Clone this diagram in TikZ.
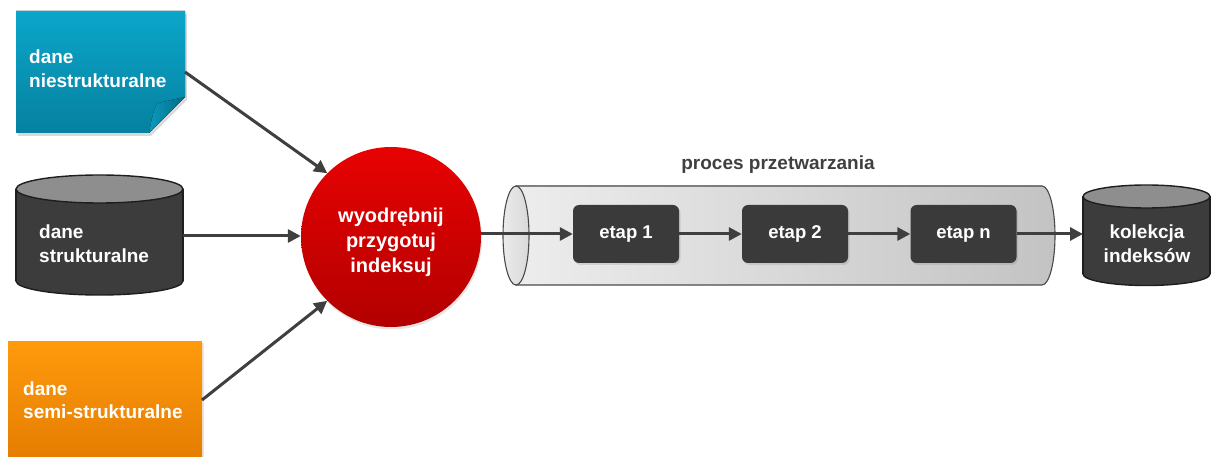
\documentclass[tikz,border=0pt]{standalone}
\usepackage{fontspec}
\setmainfont{Liberation Sans}
\usetikzlibrary{arrows.meta,shadows}

\definecolor{noteTop}{HTML}{0BA6CA}
\definecolor{noteBot}{HTML}{0681A0}
\definecolor{noteFoldA}{HTML}{0A9ABC}
\definecolor{noteFoldB}{HTML}{046A85}
\definecolor{orgTop}{HTML}{FF9A0C}
\definecolor{orgBot}{HTML}{E27A00}
\definecolor{redTop}{HTML}{E80202}
\definecolor{redBot}{HTML}{B20000}
\definecolor{cylBody}{HTML}{3C3C3C}
\definecolor{cylTop}{HTML}{8E8E8E}
\definecolor{cylLine}{HTML}{1E1E1E}
\definecolor{pipeL}{HTML}{EDEDED}
\definecolor{pipeR}{HTML}{C3C3C3}
\definecolor{pipeLine}{HTML}{4A4A4A}
\definecolor{etapc}{HTML}{3A3A3A}
\definecolor{arrowc}{HTML}{3F3F3F}
\definecolor{labc}{HTML}{404040}

\begin{document}
\begin{tikzpicture}[x=1pt,y=-1pt,
  arr/.style={draw=arrowc, line width=3pt, -{Triangle[length=13pt,width=13pt]}},
  lbl/.style={text=white, font=\fontsize{19}{24}\selectfont\bfseries, align=left, inner sep=0pt},
  lblc/.style={lbl, align=center},
  area/.style={rectangle, inner sep=0pt, outer sep=0pt},
  etapbox/.style={rectangle, rounded corners=6pt, fill=etapc, text=white,
    font=\fontsize{18.5}{22}\selectfont\bfseries, minimum width=106pt,
    minimum height=58pt, inner sep=0pt,
    drop shadow={opacity=.22, shadow xshift=1.5pt, shadow yshift=-2pt}},
  cylbody/.style={fill=cylBody, draw=cylLine, line width=1.4pt},
  cyltop/.style={fill=cylTop, draw=cylLine, line width=1.4pt}]
\useasboundingbox (0,0) rectangle (1211,457);

% ---------- unstructured data: sticky note with folded corner ----------
\fill[black, opacity=.15] (18,14) -- (187,14) -- (187,100) -- (151,136) -- (18,136) -- cycle;
\fill[top color=noteTop, bottom color=noteBot]
  (16,11) -- (185,11) -- (185,97) -- (149,133) -- (16,133) -- cycle;
\fill[left color=noteFoldA, right color=noteFoldB]
  (149,133) .. controls (152,117) and (154,108) .. (158,103) -- (185,97) -- cycle;
\node[area, minimum width=169pt, minimum height=122pt] (nies) at (100.5,72) {};
\node[lbl, anchor=west] (niesT) at (29,69) {dane\\niestrukturalne};

% ---------- structured data: cylinder ----------
\filldraw[cylbody] (99.5,281) ellipse [x radius=83.5, y radius=14];
\fill[cylBody] (16,189) rectangle (183,281);
\draw[cylLine, line width=1.4pt] (16,189) -- (16,281) (183,189) -- (183,281);
\filldraw[cyltop] (99.5,189) ellipse [x radius=83.5, y radius=14];
\node[area, minimum width=167pt, minimum height=122pt] (sdata) at (99.5,236) {};
\node[lbl, anchor=west] (sdataT) at (39,244) {dane\\strukturalne};

% ---------- semi-structured data: box ----------
\node[area, minimum width=194pt, minimum height=130pt,
  top color=orgTop, bottom color=orgBot,
  drop shadow={opacity=.2, shadow xshift=2pt, shadow yshift=-2pt}] (semi) at (105,406) {};
\node[lbl, anchor=west, font=\fontsize{19}{22.5}\selectfont\bfseries] (semiT) at (23,400) {dane\\semi-strukturalne};

% ---------- extraction step: circle ----------
\node[circle, minimum size=180pt, inner sep=0pt, top color=redTop, bottom color=redBot,
  drop shadow={opacity=.2, shadow xshift=1pt, shadow yshift=-2.5pt}] (proc) at (391,237) {};
\node[lblc, font=\fontsize{20}{25}\selectfont\bfseries] (procT) at (391,242) {wyodrębnij\\przygotuj\\indeksuj};

% ---------- processing pipeline: tube ----------
\filldraw[left color=pipeL, right color=pipeR, draw=pipeLine, line width=1.1pt]
  (516,186) -- (1042,186) arc [start angle=-90, end angle=90, x radius=13, y radius=49.5]
  -- (516,285) -- cycle;
\filldraw[left color=white!92!black, right color=white!85!black, draw=pipeLine, line width=1.1pt]
  (516,235.5) ellipse [x radius=13, y radius=49.5];
\node[font=\fontsize{19}{22}\selectfont\bfseries, text=labc, inner sep=0pt] (pipeT) at (778,165) {proces przetwarzania};

\node[etapbox] (e1) at (626,234) {etap 1};
\node[etapbox] (e2) at (795,234) {etap 2};
\node[etapbox] (en) at (963.5,234) {etap n};

% ---------- index collection: cylinder ----------
\filldraw[cylbody] (1146.5,274) ellipse [x radius=63.5, y radius=11.5];
\fill[cylBody] (1083,196.5) rectangle (1210,274);
\draw[cylLine, line width=1.4pt] (1083,196.5) -- (1083,274) (1210,196.5) -- (1210,274);
\filldraw[cyltop] (1146.5,196.5) ellipse [x radius=63.5, y radius=11.5];
\node[area, minimum width=127pt, minimum height=100pt] (kol) at (1146.5,235) {};
\node[lblc] (kolT) at (1147,244) {kolekcja\\indeksów};

% ---------- connectors ----------
\draw[arr] (nies.east) -- (proc.135);
\draw[arr] (sdata.east) -- (sdata.east -| proc.west);
\draw[arr] ([yshift=6pt]semi.east) -- (proc.225);
\draw[arr] (proc.east |- e1.west) -- (e1.west);
\draw[arr] (e1.east) -- (e2.west);
\draw[arr] (e2.east) -- (en.west);
\draw[arr] (en.east) -- (en.east -| kol.west);
\end{tikzpicture}
\end{document}
